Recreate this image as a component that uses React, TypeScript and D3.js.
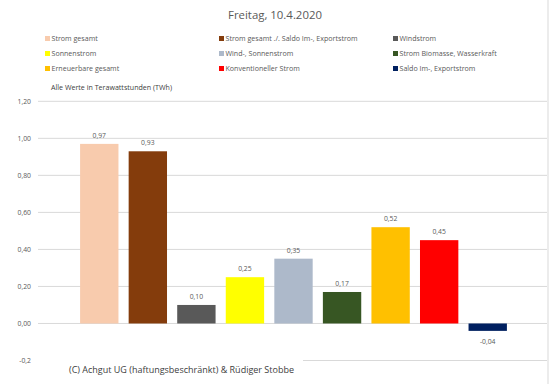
import React from 'react';
import * as d3 from 'd3';

const series = [
  'Strom gesamt',
  'Strom gesamt ./. Saldo Im-, Exportstrom',
  'Windstrom',
  'Sonnenstrom',
  'Wind-, Sonnenstrom',
  'Strom Biomasse, Wasserkraft',
  'Erneuerbare gesamt',
  'Konventioneller Strom',
  'Saldo Im-, Exportstrom',
];
const values = [0.97, 0.93, 0.1, 0.25, 0.35, 0.17, 0.52, 0.45, -0.04];
const colors = ['#F8CBAD', '#843C0C', '#595959', '#FFFF00', '#ADB9CA', '#375623', '#FFC000', '#FF0000', '#002060'];
const yTicks = [1.2, 1.0, 0.8, 0.6, 0.4, 0.2, 0.0, -0.2];

const W = 552;
const H = 384;
const font = "'Open Sans', 'Liberation Sans', sans-serif";

export default function App() {
  const y = d3.scaleLinear().domain([-0.2, 1.2]).range([360.5, 101.3]);
  const x = d3.scaleBand<string>().domain(series).range([75, 512]).paddingInner(0.21).paddingOuter(0.105);
  const fmtTick = (v: number) => (v === -0.2 ? '-0,2' : d3.format('.2f')(v).replace('.', ','));
  const fmtVal = (v: number) => d3.format('.2f')(v).replace('.', ',').replace('−', '-');

  const legendCols = [45, 219, 393];
  const legendRows = [38.5, 53.5, 68.5];

  return (
    <svg width={W} height={H} style={{ position: 'absolute', left: 0, top: 0, background: '#fff' }} fontFamily={font}>
      <rect x={0} y={0} width={W} height={H} fill="#fff" />
      <line x1={548} x2={548} y1={0} y2={H} stroke="#d9d9d9" />
      <text x={275} y={15} dy="0.35em" textAnchor="middle" fontSize={11.4} fill="#595959">Freitag, 10.4.2020</text>

      {series.map((s, i) => {
        const cx = legendCols[i % 3];
        const cy = legendRows[Math.floor(i / 3)];
        return (
          <g key={s}>
            <rect x={cx} y={cy - 2.5} width={5} height={5} fill={colors[i]} />
            <text x={cx + 6.5} y={cy} dy="0.35em" fontSize={7.1} fill="#595959">{s}</text>
          </g>
        );
      })}
      <text x={51} y={88} dy="0.35em" fontSize={7.1} fill="#404040">Alle Werte in Terawattstunden (TWh)</text>

      {yTicks.map((t) => (
        <g key={t}>
          <line x1={38} x2={547} y1={y(t)} y2={y(t)} stroke="#d9d9d9" strokeWidth={1} />
          <text x={31} y={y(t)} dy="0.35em" textAnchor="end" fontSize={6.8} fill="#595959">{fmtTick(t)}</text>
        </g>
      ))}

      {series.map((s, i) => {
        const v = values[i];
        const top = y(Math.max(0, v));
        const bottom = y(Math.min(0, v));
        const cx = (x(s) ?? 0) + x.bandwidth() / 2;
        return (
          <g key={s}>
            <rect x={x(s)} y={top} width={x.bandwidth()} height={bottom - top} fill={colors[i]} />
            <text
              x={cx}
              y={v >= 0 ? top - 8.5 : bottom + 11}
              dy="0.35em"
              textAnchor="middle"
              fontSize={6.8}
              fill="#595959"
            >
              {fmtVal(v)}
            </text>
          </g>
        );
      })}

      <rect x={38} y={352} width={265} height={30} fill="#fff" />
      <text x={69} y={370} dy="0.35em" fontSize={9} fill="#404040">(C) Achgut UG (haftungsbeschränkt) &amp; Rüdiger Stobbe</text>
    </svg>
  );
}
